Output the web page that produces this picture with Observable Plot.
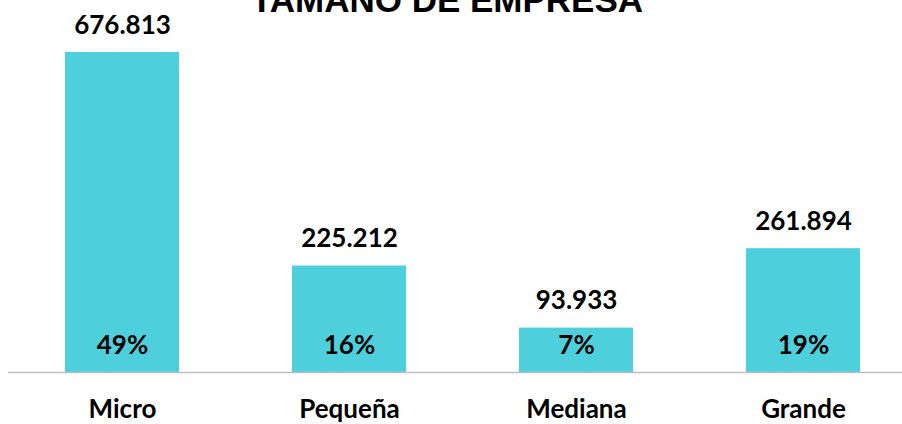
<!DOCTYPE html>
<html>
<head>
<meta charset="utf-8">
<script src="https://cdn.jsdelivr.net/npm/d3@7"></script>
<script src="https://cdn.jsdelivr.net/npm/@observablehq/plot@0.6"></script>
<style>
  html, body { margin: 0; padding: 0; background: #fff; }
  #wrap { position: relative; width: 902px; height: 424px; overflow: hidden; }
  #title { position: absolute; left: 0; width: 894px; text-align: center; top: -20px;
    font-family: "Liberation Sans", Arial, sans-serif; font-weight: bold; font-size: 35px; line-height: 40px; color: #000; white-space: nowrap; }
  #chart { position: absolute; left: 0; top: 0; }
</style>
</head>
<body>
<div id="wrap">
  <div id="chart"></div>
  <div id="title">TAMAÑO DE EMPRESA</div>
</div>
<script>
const categories = ["Micro", "Pequeña", "Mediana", "Grande"];
const values = [676813, 225212, 93933, 261894];
const shares = [49, 16, 7, 19];

const data = categories.map((c, i) => ({cat: c, value: values[i], share: shares[i]}));
const locale = d3.formatLocale({decimal: ",", thousands: ".", grouping: [3], currency: ["", ""]});
const fmt = locale.format(",");

const font = "Lato, 'Open Sans', sans-serif";
const chart = Plot.plot({
  width: 902,
  height: 424,
  marginLeft: 8,
  marginRight: 0,
  marginTop: 0,
  marginBottom: 52,
  style: {fontFamily: font, background: "#fff"},
  x: {domain: categories, range: [8.5, 916.5], paddingInner: 0.5, paddingOuter: 0.25, axis: null},
  y: {domain: [0, d3.max(values)], range: [372, 52], axis: null},
  marks: [
    Plot.barY(data, {x: "cat", y: "value", fill: "#4ECFDC"}),
    Plot.ruleY([0], {stroke: "#BFBFBF", strokeWidth: 1.5}),
    Plot.text(data, {x: "cat", y: "value", text: d => fmt(d.value), lineAnchor: "bottom", dy: -19,
      fontSize: 26, fontWeight: "bold", fill: "#000"}),
    Plot.text(data, {x: "cat", y: () => 0, text: d => d.share + "%", lineAnchor: "bottom", dy: -19,
      fontSize: 26, fontWeight: "bold", fill: "#000"}),
    Plot.text(data, {x: "cat", y: () => 0, text: "cat", lineAnchor: "bottom", dy: 45,
      fontSize: 26, fontWeight: "bold", fill: "#000"})
  ]
});
document.getElementById("chart").appendChild(chart);
</script>
</body>
</html>
